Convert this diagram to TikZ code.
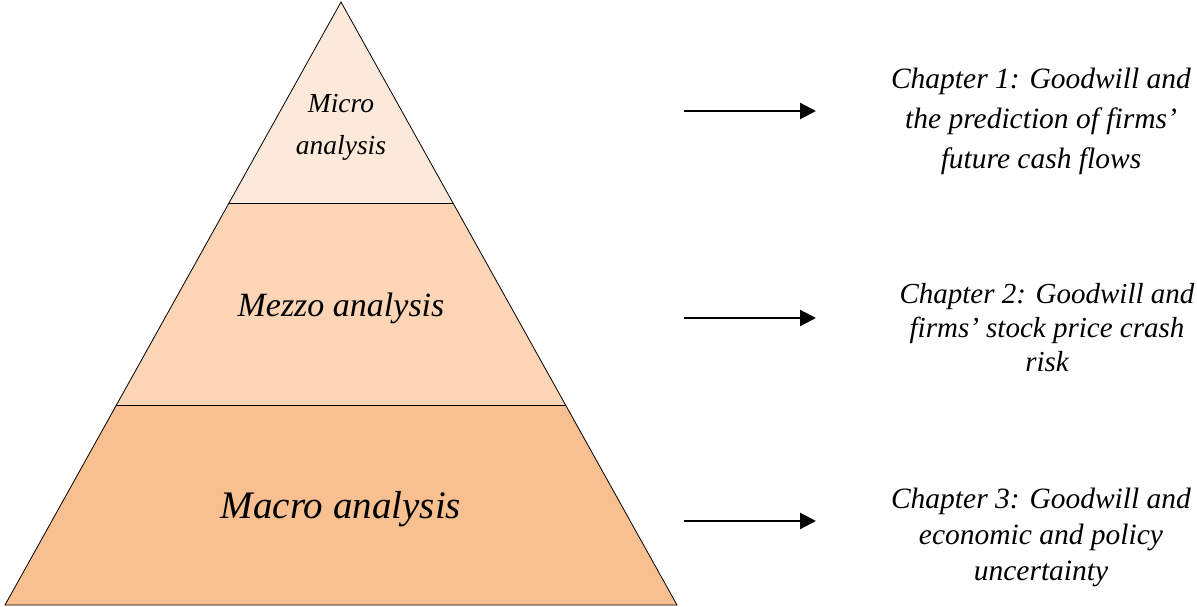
\documentclass[tikz,border=0pt]{standalone}
\usepackage{fontspec}
\setmainfont{Liberation Serif}
\usetikzlibrary{arrows.meta}
\definecolor{tierTop}{HTML}{FDE9D9}
\definecolor{tierMid}{HTML}{FBD5B5}
\definecolor{tierBot}{HTML}{F8C091}
\begin{document}
\begin{tikzpicture}[x=1pt,y=-1pt,
  lbl/.style={align=center, font=\itshape, inner sep=0pt},
  arr/.style={-{Triangle[length=16pt,width=16pt]}, line width=2.2pt}]
\useasboundingbox (0,0) rectangle (1197,607);
% pyramid corners
\coordinate (apex) at (341,2);
\coordinate (l1) at (229,203);
\coordinate (r1) at (453,203);
\coordinate (l2) at (116,405);
\coordinate (r2) at (566,405);
\coordinate (bl) at (5,605);
\coordinate (br) at (677,605);
\fill[tierTop] (apex) -- (l1) -- (r1) -- cycle;
\fill[tierMid] (l1) -- (l2) -- (r2) -- (r1) -- cycle;
\fill[tierBot] (l2) -- (bl) -- (br) -- (r2) -- cycle;
\draw[line width=0.8pt] (apex) -- (bl) -- (br) -- cycle;
\draw[line width=0.8pt] (l1) -- (r1);
\draw[line width=0.8pt] (l2) -- (r2);
\node[lbl, font=\itshape\fontsize{27.5}{42}\selectfont] (micro) at (341,127) {Micro\\analysis};
\node[lbl, font=\itshape\fontsize{34}{40}\selectfont] (mezzo) at (341,308) {Mezzo analysis};
\node[lbl, font=\itshape\fontsize{39}{44}\selectfont] (macro) at (341,509) {Macro analysis};
% chapters
\node[lbl, font=\itshape\fontsize{29.5}{40}\selectfont] (ch1) at (1041,121) {Chapter 1: Goodwill and\\the prediction of firms’\\future cash flows};
\node[lbl, font=\itshape\fontsize{29}{34}\selectfont] (ch2) at (1047,328) {Chapter 2: Goodwill and\\firms’ stock price crash\\risk};
\node[lbl, font=\itshape\fontsize{29.5}{36}\selectfont] (ch3) at (1041,537) {Chapter 3: Goodwill and\\economic and policy\\uncertainty};
\coordinate (a1) at (684,111);
\coordinate (b1) at (816,111);
\coordinate (a2) at (684,318);
\coordinate (b2) at (816,318);
\coordinate (a3) at (684,521);
\coordinate (b3) at (816,521);
\draw[arr] (a1) -- (b1);
\draw[arr] (a2) -- (b2);
\draw[arr] (a3) -- (b3);
\end{tikzpicture}
\end{document}
